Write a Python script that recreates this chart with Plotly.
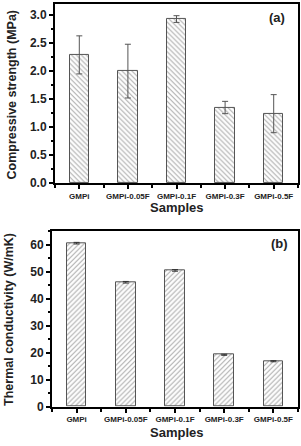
import plotly.graph_objects as go

samples = ["GMPi", "GMPi-0.05F", "GMPi-0.1F", "GMPi-0.3F", "GMPi-0.5F"]
strength = [2.29, 2.00, 2.93, 1.35, 1.24]
strength_err = [0.34, 0.48, 0.06, 0.11, 0.34]
conductivity = [60.6, 46.1, 50.5, 19.2, 16.8]
conductivity_err = [0.3, 0.3, 0.3, 0.2, 0.2]

xpos = list(range(len(samples)))
FONT = "Liberation Sans, Arial, sans-serif"

fig = go.Figure()
fig.add_trace(go.Bar(
    x=xpos, y=strength, width=0.4, xaxis="x", yaxis="y",
    marker=dict(color="white", line=dict(color="#555", width=1),
                pattern=dict(shape="\\", fgcolor="#555", bgcolor="white", size=3.5, solidity=0.3)),
    error_y=dict(type="data", array=strength_err, color="#555", thickness=1, width=3),
    showlegend=False))
fig.add_trace(go.Bar(
    x=xpos, y=conductivity, width=0.4, xaxis="x2", yaxis="y2",
    marker=dict(color="white", line=dict(color="#555", width=1),
                pattern=dict(shape="/", fgcolor="#555", bgcolor="white", size=3.5, solidity=0.3)),
    error_y=dict(type="data", array=conductivity_err, color="#333", thickness=1, width=3),
    showlegend=False))

xcommon = dict(range=[-0.5, 4.5], tickvals=xpos, ticktext=samples, showgrid=False, zeroline=False,
               ticks="outside", ticklen=4, tickwidth=1.5, tickcolor="black",
               showline=True, linecolor="black", linewidth=2, mirror=True,
               tickfont=dict(family=FONT, size=8, color="#222", weight="bold"),
               minor=dict(tick0=0.5, dtick=1, ticks="outside", ticklen=3, tickcolor="black", tickwidth=1.5))
ycommon = dict(showgrid=False, zeroline=False, ticks="outside", ticklen=4, tickwidth=1.5, tickcolor="black",
               showline=True, linecolor="black", linewidth=2, mirror=True,
               tickfont=dict(family=FONT, size=12, color="#222", weight="bold"))

def ann(text, x, y, size, angle=0):
    return dict(text=text, x=x/301, y=1 - y/446, xref="paper", yref="paper", showarrow=False,
                xanchor="center", yanchor="middle", textangle=angle,
                font=dict(family=FONT, size=size, color="#222", weight="bold"))

fig.update_layout(
    width=301, height=446, margin=dict(l=0, r=0, t=0, b=0),
    paper_bgcolor="white", plot_bgcolor="white", bargap=0,
    xaxis=dict(domain=[55/301, 298/301], anchor="y", **xcommon),
    yaxis=dict(domain=[260/446, 442/446], anchor="x", range=[0, 3.2], dtick=0.5, tickformat=".1f",
               minor=dict(dtick=0.25, ticks="outside", ticklen=2.5, tickcolor="black", tickwidth=1.5), **ycommon),
    xaxis2=dict(domain=[52/301, 298/301], anchor="y2", **xcommon),
    yaxis2=dict(domain=[33/446, 211/446], anchor="x2", range=[0, 65], dtick=10,
                minor=dict(dtick=5, ticks="outside", ticklen=2.5, tickcolor="black", tickwidth=1.5), **ycommon),
    annotations=[
        ann("Samples", 176, 211, 13),
        ann("Samples", 176, 439, 13),
        ann("Compressive strength (MPa)", 12, 97, 12.5, -90),
        ann("Thermal conductivity (W/mK)", 9, 325, 12.5, -90),
        ann("(a)", 277, 18, 13),
        ann("(b)", 279, 247, 13),
    ],
)

fig.write_html("out.html")
